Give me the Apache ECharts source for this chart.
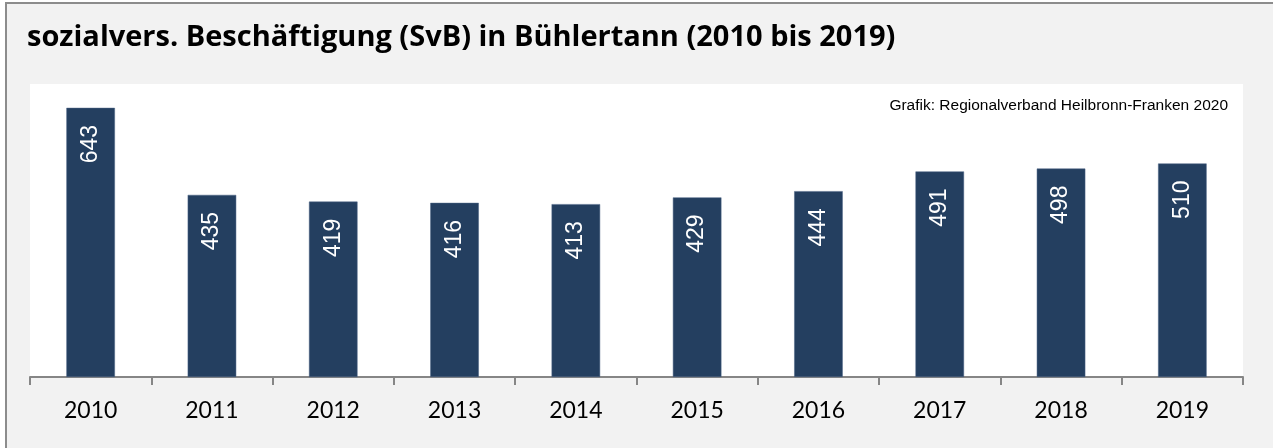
<!DOCTYPE html>
<html>
<head>
<meta charset="utf-8">
<script src="https://cdn.jsdelivr.net/npm/echarts@6/dist/echarts.min.js"></script>
<style>
  html, body { margin: 0; padding: 0; background: #fff; overflow: hidden; }
  #frame { position: absolute; left: 5px; top: 2px; width: 1300px; height: 500px;
           background: #f2f2f2; border: 2px solid #8c8c8c; }
  #chart-container { position: absolute; left: 0; top: 0; width: 1273px; height: 448px; }
</style>
</head>
<body>
<div id="frame"></div>
<div id="chart-container"></div>
<script>
var years = ['2010', '2011', '2012', '2013', '2014', '2015', '2016', '2017', '2018', '2019'];
var svb = [643, 435, 419, 416, 413, 429, 444, 491, 498, 510];
var titleText = 'sozialvers. Beschäftigung (SvB) in Bühlertann (2010 bis 2019)';
var sourceText = 'Grafik: Regionalverband Heilbronn-Franken 2020';

var dom = document.getElementById('chart-container');
var myChart = echarts.init(dom, null, { renderer: 'canvas' });

var option = {
  backgroundColor: 'transparent',
  animation: false,
  title: [
    {
      text: titleText,
      left: 22,
      top: 18,
      textStyle: {
        fontFamily: 'Open Sans',
        fontWeight: 'bold',
        fontSize: 29,
        color: '#000'
      }
    },
    {
      text: sourceText,
      right: 40,
      top: 93,
      textStyle: {
        fontFamily: 'Liberation Sans',
        fontWeight: 'normal',
        fontSize: 15.5,
        color: '#000'
      }
    }
  ],
  grid: {
    left: 30,
    right: 30,
    top: 84,
    bottom: 71,
    show: true,
    backgroundColor: '#fff',
    borderWidth: 0
  },
  xAxis: {
    type: 'category',
    data: years,
    axisLine: { show: true, lineStyle: { color: '#868686', width: 2 } },
    axisTick: { show: true, length: 8, lineStyle: { color: '#868686', width: 2 } },
    axisLabel: {
      fontFamily: 'Lato',
      fontSize: 23,
      color: '#000',
      margin: 22
    }
  },
  yAxis: {
    type: 'value',
    min: 0,
    max: 700,
    show: false,
    splitLine: { show: false }
  },
  series: [
    {
      type: 'bar',
      data: svb,
      barWidth: '40%',
      itemStyle: { color: '#243f60', borderColor: '#4a6285', borderWidth: 0.5 },
      label: {
        show: true,
        position: 'insideTop',
        rotate: 90,
        align: 'right',
        verticalAlign: 'middle',
        distance: 17,
        fontFamily: 'Liberation Sans',
        fontSize: 23,
        color: '#fff'
      }
    }
  ]
};

myChart.setOption(option);
</script>
</body>
</html>
